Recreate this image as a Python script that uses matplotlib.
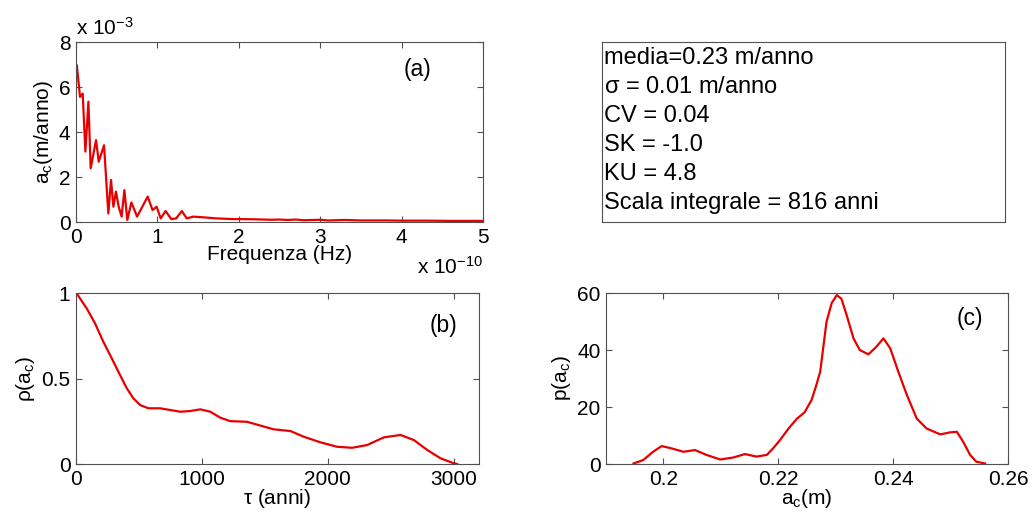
import matplotlib
matplotlib.use('Agg')
import matplotlib.pyplot as plt

plt.rcParams['font.family'] = ['Liberation Sans', 'DejaVu Sans']
plt.rcParams['mathtext.fontset'] = 'custom'
plt.rcParams['mathtext.rm'] = 'Liberation Sans'
plt.rcParams['mathtext.default'] = 'regular'
plt.rcParams['font.size'] = 15

# (a) spettro di ampiezza: frequenza in 1e-10 Hz, ampiezza in 1e-3 m/anno
freq = [0.01, 0.049, 0.082, 0.115, 0.152, 0.18, 0.246, 0.279, 0.344, 0.397,
        0.43, 0.459, 0.49, 0.524, 0.56, 0.594, 0.63, 0.68, 0.75, 0.88,
        0.94, 0.99, 1.04, 1.10, 1.17, 1.23, 1.30, 1.36, 1.44, 1.56,
        1.73, 1.93, 2.0, 2.2, 2.4, 2.5, 2.6, 2.7, 2.8, 2.9,
        3.0, 3.1, 3.2, 3.3, 3.5, 3.8, 4.0, 4.3, 4.6, 5.0]
ampl = [6.95, 5.56, 5.71, 3.13, 5.35, 2.39, 3.64, 2.68, 3.41, 0.38,
        1.87, 0.68, 1.35, 0.68, 0.24, 1.42, 0.09, 0.87, 0.24, 1.13,
        0.53, 0.68, 0.16, 0.49, 0.13, 0.16, 0.49, 0.16, 0.24, 0.21,
        0.16, 0.13, 0.13, 0.12, 0.10, 0.11, 0.09, 0.11, 0.08, 0.09,
        0.10, 0.07, 0.08, 0.09, 0.07, 0.07, 0.06, 0.06, 0.05, 0.05]

# (b) autocorrelazione
tau = [0, 5, 85, 151, 217, 284, 350, 403, 456, 509,
       575, 668, 748, 827, 907, 987, 1066, 1146, 1225, 1358,
       1464, 1570, 1702, 1808, 1941, 2073, 2193, 2312, 2445, 2578,
       2684, 2790, 2896, 3002, 3028]
rho = [1.0, 0.998, 0.91, 0.823, 0.715, 0.618, 0.52, 0.443, 0.384, 0.345,
       0.326, 0.326, 0.316, 0.306, 0.31, 0.32, 0.306, 0.271, 0.251, 0.247,
       0.225, 0.203, 0.193, 0.16, 0.127, 0.101, 0.095, 0.111, 0.156, 0.17,
       0.14, 0.082, 0.033, 0.004, 0.0]

# (c) densita' di probabilita'
ac = [0.1948, 0.1965, 0.1982, 0.1997, 0.2014, 0.2035, 0.2055, 0.2075, 0.2099, 0.2122,
      0.2142, 0.2162, 0.2180, 0.2191, 0.2203, 0.2218, 0.2232, 0.2246, 0.2258, 0.2266,
      0.2273, 0.2284, 0.2293, 0.2302, 0.2310, 0.2319, 0.2331, 0.2342, 0.2357, 0.2371,
      0.2383, 0.2395, 0.2409, 0.2424, 0.2441, 0.2458, 0.2482, 0.2499, 0.2511, 0.2522,
      0.2534, 0.2545, 0.2560]
pdf = [0.2, 1.4, 4.3, 6.3, 5.5, 4.3, 4.9, 3.2, 1.6, 2.3,
       3.5, 2.6, 3.2, 5.5, 8.4, 12.5, 15.8, 18.2, 22.5, 27.5,
       32.4, 49.9, 56.5, 59.3, 58.0, 52.3, 44.1, 40.0, 38.5, 41.2,
       44.1, 40.6, 32.4, 24.2, 16.0, 12.5, 10.4, 11.1, 11.3, 7.8,
       3.2, 0.8, 0.2]

stats = ['media=0.23 m/anno', r'$\sigma$ = 0.01 m/anno', 'CV = 0.04',
         'SK = -1.0', 'KU = 4.8', 'Scala integrale = 816 anni']

red = '#e80000'
edge = '#505050'


def matlab_axes(ax):
    for s in ax.spines.values():
        s.set_color(edge)
        s.set_linewidth(0.8)
    ax.tick_params(direction='in', top=True, right=True, length=4,
                   color=edge, labelsize=15, pad=4)


fig = plt.figure(figsize=(10.33, 5.18), dpi=100)

ax1 = fig.add_axes([0.0736, 0.5714, 0.394, 0.3475])
ax1.plot(freq, ampl, color=red, lw=1.6)
ax1.set_xlim(0, 5)
ax1.set_ylim(0, 8)
ax1.set_xticks([0, 1, 2, 3, 4, 5])
ax1.set_yticks([0, 2, 4, 6, 8])
ax1.set_xlabel('Frequenza (Hz)', labelpad=-1)
ax1.set_ylabel('a$_c$(m/anno)', labelpad=3)
ax1.text(0.84, 0.845, '(a)', transform=ax1.transAxes, ha='center', va='center', fontsize=16.5)
ax1.text(0.0, 1.02, r'x 10$^{-3}$', transform=ax1.transAxes, ha='left', va='bottom', fontsize=15)
ax1.text(1.0, -0.19, r'x 10$^{-10}$', transform=ax1.transAxes, ha='right', va='top', fontsize=15)
matlab_axes(ax1)

ax2 = fig.add_axes([0.0736, 0.1042, 0.390, 0.330])
ax2.plot(tau, rho, color=red, lw=1.6)
ax2.set_xlim(0, 3200)
ax2.set_ylim(0, 1)
ax2.set_xticks([0, 1000, 2000, 3000])
ax2.set_yticks([0, 0.5, 1])
ax2.set_yticklabels(['0', '0.5', '1'])
ax2.set_xlabel(r'$\tau$ (anni)', labelpad=-1)
ax2.set_ylabel(r'$\rho$(a$_c$)', labelpad=3)
ax2.text(0.913, 0.81, '(b)', transform=ax2.transAxes, ha='center', va='center', fontsize=16.5)
matlab_axes(ax2)

ax3 = fig.add_axes([0.5866, 0.1042, 0.3892, 0.330])
ax3.plot(ac, pdf, color=red, lw=1.6)
ax3.set_xlim(0.19, 0.26)
ax3.set_ylim(0, 60)
ax3.set_xticks([0.2, 0.22, 0.24, 0.26])
ax3.set_xticklabels(['0.2', '0.22', '0.24', '0.26'])
ax3.set_yticks([0, 20, 40, 60])
ax3.set_xlabel('a$_c$(m)', labelpad=-1)
ax3.set_ylabel('p(a$_c$)', labelpad=3)
ax3.text(0.905, 0.85, '(c)', transform=ax3.transAxes, ha='center', va='center', fontsize=16.5)
matlab_axes(ax3)

# riquadro con le statistiche
axt = fig.add_axes([0.5828, 0.5714, 0.3901, 0.3475])
axt.set_xticks([])
axt.set_yticks([])
for s in axt.spines.values():
    s.set_color(edge)
    s.set_linewidth(0.8)
for i, line in enumerate(stats):
    axt.text(0.004, 0.911 - i * 0.161, line, transform=axt.transAxes,
             ha='left', va='center', fontsize=17)

fig.savefig('out.png', dpi=100)
